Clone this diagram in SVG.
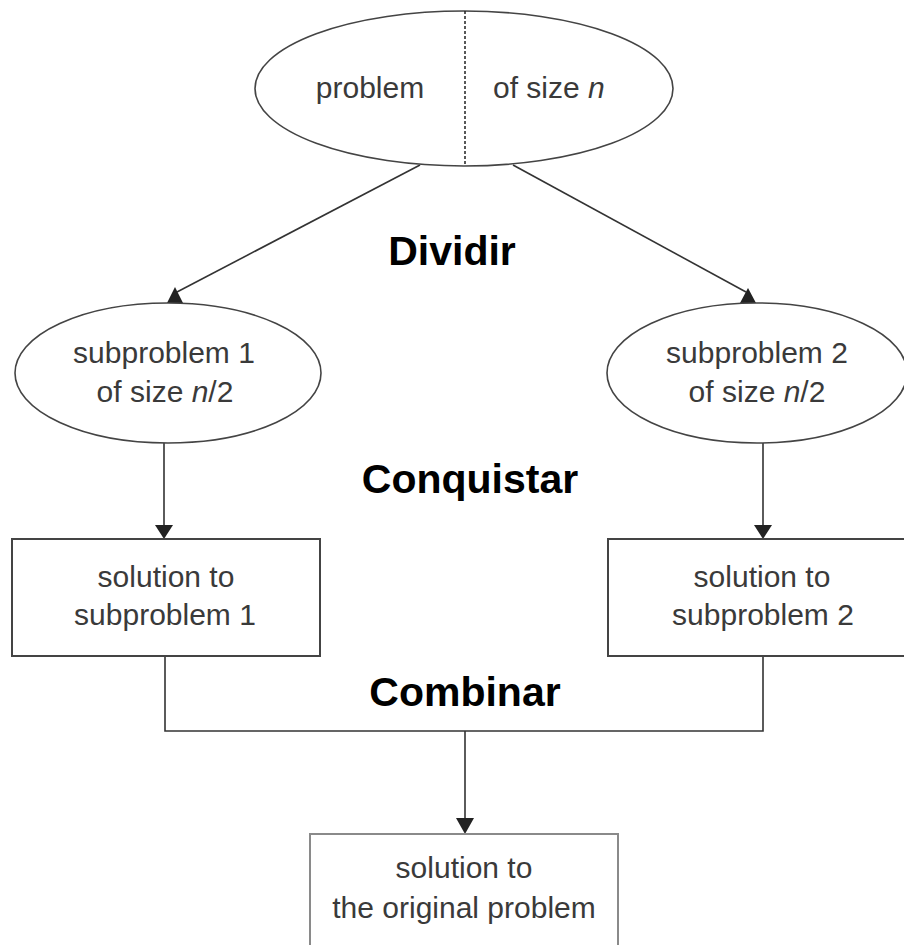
<svg xmlns="http://www.w3.org/2000/svg" width="904" height="945" viewBox="0 0 904 945">
  <style>
    .shape { fill: #ffffff; stroke: #444444; stroke-width: 1.6; }
    .box { fill: #ffffff; stroke: #444444; stroke-width: 2; }
    .box2 { fill: #ffffff; stroke: #8a8a8a; stroke-width: 2; }
    .txt { font-family: "Liberation Sans", Arial, sans-serif; font-size: 30px; fill: #3a3a3a; text-anchor: middle; }
    .lbl { font-family: "Liberation Sans", Arial, sans-serif; font-size: 41px; font-weight: bold; fill: #000000; text-anchor: middle; }
    .line { fill: none; stroke: #333333; stroke-width: 1.6; }
    .head { fill: #222222; stroke: none; }
  </style>
  <rect x="0" y="0" width="904" height="945" fill="#ffffff"/>

  <g id="connectors">
    <line class="line" x1="420" y1="165" x2="177" y2="292"/>
    <polygon class="head" points="175,287 167,303 183,303"/>
    <line class="line" x1="513" y1="165" x2="746" y2="292"/>
    <polygon class="head" points="748,288 740,303 756,303"/>
    <line class="line" x1="164" y1="443" x2="164" y2="527"/>
    <polygon class="head" points="164,539 155,525 173,525"/>
    <line class="line" x1="763" y1="443" x2="763" y2="527"/>
    <polygon class="head" points="763,539 754,525 772,525"/>
    <polyline class="line" points="165,656 165,731 763,731 763,656"/>
    <line class="line" x1="465" y1="731" x2="465" y2="820"/>
    <polygon class="head" points="465,834 456,818 474,818"/>
  </g>

  <g id="problem">
    <ellipse class="shape" cx="464" cy="88.5" rx="209" ry="77.5"/>
    <line x1="465" y1="11" x2="465" y2="166" stroke="#222222" stroke-width="1.5" stroke-dasharray="3 2"/>
    <text class="txt" x="370" y="98">problem</text>
    <text class="txt" x="493" y="98" style="text-anchor:start">of size <tspan font-style="italic">n</tspan></text>
  </g>

  <g id="subproblem1">
    <ellipse class="shape" cx="168" cy="373" rx="153" ry="70"/>
    <text class="txt" x="164" y="363">subproblem 1</text>
    <text class="txt" x="165" y="402">of size <tspan font-style="italic">n</tspan>/2</text>
  </g>

  <g id="subproblem2">
    <ellipse class="shape" cx="757" cy="373" rx="150" ry="70"/>
    <text class="txt" x="757" y="363">subproblem 2</text>
    <text class="txt" x="757" y="402">of size <tspan font-style="italic">n</tspan>/2</text>
  </g>

  <g id="solution1">
    <rect class="box" x="12" y="539" width="308" height="117"/>
    <text class="txt" x="166" y="587">solution to</text>
    <text class="txt" x="165" y="625">subproblem 1</text>
  </g>

  <g id="solution2">
    <rect class="box" x="608" y="539" width="310" height="117"/>
    <text class="txt" x="762" y="587">solution to</text>
    <text class="txt" x="763" y="625">subproblem 2</text>
  </g>

  <g id="solution">
    <rect class="box2" x="310" y="834" width="308" height="130"/>
    <text class="txt" x="464" y="878">solution to</text>
    <text class="txt" x="464" y="918">the original problem</text>
  </g>

  <g id="labels">
    <text class="lbl" x="452" y="265">Dividir</text>
    <text class="lbl" x="470" y="493">Conquistar</text>
    <text class="lbl" x="465" y="706">Combinar</text>
  </g>
</svg>
